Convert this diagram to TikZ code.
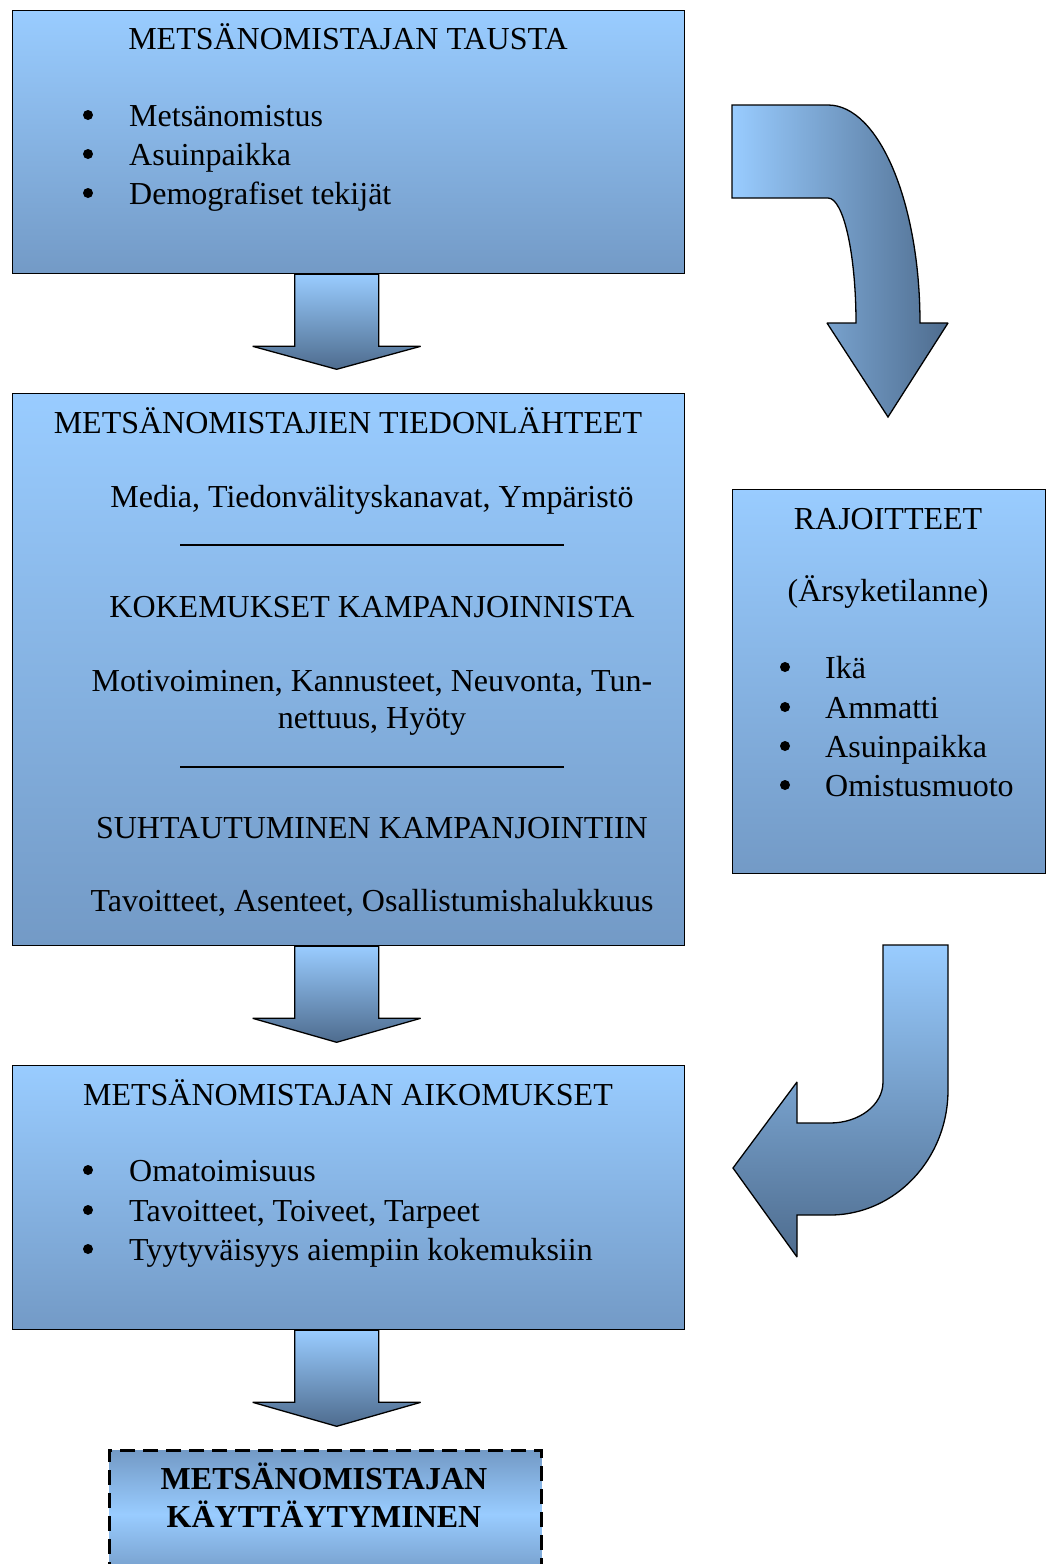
\documentclass[tikz,border=0pt]{standalone}
\usepackage{fontspec}
\setmainfont{Liberation Serif}
\usetikzlibrary{calc}
\definecolor{boxtop}{RGB}{153,204,255}
\definecolor{boxbot}{RGB}{115,154,198}
\definecolor{arrbot}{RGB}{78,108,142}
\begin{document}
\begin{tikzpicture}[x=1pt, y=-1pt,
  box/.style={draw, rectangle, line width=1.3pt, anchor=north west, inner sep=0pt, top color=boxtop, bottom color=boxbot},
  txt/.style={anchor=base, inner sep=0pt, font=\fontsize{32}{39}\selectfont},
  item/.style={txt, anchor=base west},
  dot/.style={circle, fill, inner sep=0pt, minimum size=10pt},
  blockarrow/.style={draw, line width=1.3pt, line join=miter, miter limit=2}]
\useasboundingbox (0,0) rectangle (1048,1564);

\node[box, minimum width=672, minimum height=263] (tausta) at (12,10) {};
\node[box, minimum width=672, minimum height=552] (lahteet) at (12,393) {};
\node[box, minimum width=672, minimum height=264] (aikomukset) at (12,1065) {};
\node[box, minimum width=313, minimum height=384] (rajoitteet) at (732,489) {};
\node[box, minimum width=432, minimum height=128, line width=2.6pt, dash pattern=on 15pt off 8pt,
  top color=boxbot, bottom color=boxbot, middle color=boxtop] (kaytos) at (108,1449) {};

% nuolet alaspäin
\draw[blockarrow, top color=boxtop, bottom color=arrbot] ($(tausta.south)+(-54,0)$) -- ++(0,72) -- ++(-42,0) -- ++(84,23) -- ++(84,-23) -- ++(-42,0) -- ++(0,-72) -- cycle;
\draw[blockarrow, top color=boxtop, bottom color=arrbot] ($(lahteet.south)+(-54,0)$) -- ++(0,72) -- ++(-42,0) -- ++(84,24) -- ++(84,-24) -- ++(-42,0) -- ++(0,-72) -- cycle;
\draw[blockarrow, top color=boxtop, bottom color=arrbot] ($(aikomukset.south)+(-54,0)$) -- ++(0,72) -- ++(-42,0) -- ++(84,24) -- ++(84,-24) -- ++(-42,0) -- ++(0,-72) -- cycle;

% kaarevat nuolet
\draw[blockarrow, left color=boxtop, right color=arrbot] (732,105) -- (828,105)
  .. controls (878.8,105) and (920,202.6) .. (920,323) -- (948,323) -- (888,417) -- (827,323) -- (856,323)
  .. controls (856,254) and (843.5,198) .. (828,198) -- (732,198) -- cycle;
\draw[blockarrow, top color=boxtop, bottom color=arrbot] (883,945) -- (948,945) -- (948,1090)
  .. controls (948,1159) and (895,1215) .. (830,1215) -- (797,1215) -- (797,1257) -- (733,1168) -- (797,1082) -- (797,1123) -- (830,1123)
  .. controls (859,1123) and (883,1105) .. (883,1082) -- cycle;

% tausta
\node[txt] (t0) at (348,49) {METSÄNOMISTAJAN TAUSTA};
\node[dot] (b1) at (88,115) {};
\node[item] (t1) at (129,126) {Metsänomistus};
\node[dot] (b2) at (88,154) {};
\node[item] (t2) at (129,165) {Asuinpaikka};
\node[dot] (b3) at (88,193) {};
\node[item] (t3) at (129,204) {Demografiset tekijät};

% tiedonlähteet
\node[txt] (l0) at (348,433) {METSÄNOMISTAJIEN TIEDONLÄHTEET};
\node[txt] (l1) at (372,507) {Media, Tiedonvälityskanavat, Ympäristö};
\draw[line width=1.3pt] (180,545) -- (564,545);
\node[txt] (l2) at (372,617) {KOKEMUKSET KAMPANJOINNISTA};
\node[txt] (l3) at (372,691) {Motivoiminen, Kannusteet, Neuvonta, Tun-};
\node[txt] (l4) at (372,728) {nettuus, Hyöty};
\draw[line width=1.3pt] (180,767) -- (564,767);
\node[txt] (l5) at (372,838) {SUHTAUTUMINEN KAMPANJOINTIIN};
\node[txt] (l6) at (372,911) {Tavoitteet, Asenteet, Osallistumishalukkuus};

% rajoitteet
\node[txt] (r0) at (888,529) {RAJOITTEET};
\node[txt] (r1) at (888,601) {(Ärsyketilanne)};
\node[dot] (rb1) at (785,667) {};
\node[item] (r2) at (825,678) {Ikä};
\node[dot] (rb2) at (785,707) {};
\node[item] (r3) at (825,718) {Ammatti};
\node[dot] (rb3) at (785,746) {};
\node[item] (r4) at (825,757) {Asuinpaikka};
\node[dot] (rb4) at (785,785) {};
\node[item] (r5) at (825,796) {Omistusmuoto};

% aikomukset
\node[txt] (a0) at (348,1105) {METSÄNOMISTAJAN AIKOMUKSET};
\node[dot] (ab1) at (88,1170) {};
\node[item] (a1) at (129,1181) {Omatoimisuus};
\node[dot] (ab2) at (88,1210) {};
\node[item] (a2) at (129,1221) {Tavoitteet, Toiveet, Tarpeet};
\node[dot] (ab3) at (88,1249) {};
\node[item] (a3) at (129,1260) {Tyytyväisyys aiempiin kokemuksiin};

% käyttäytyminen
\node[txt, font=\fontsize{32}{39}\selectfont\bfseries] (k1) at (324,1489) {METSÄNOMISTAJAN};
\node[txt, font=\fontsize{32}{39}\selectfont\bfseries] (k2) at (324,1527) {KÄYTTÄYTYMINEN};
\end{tikzpicture}
\end{document}
